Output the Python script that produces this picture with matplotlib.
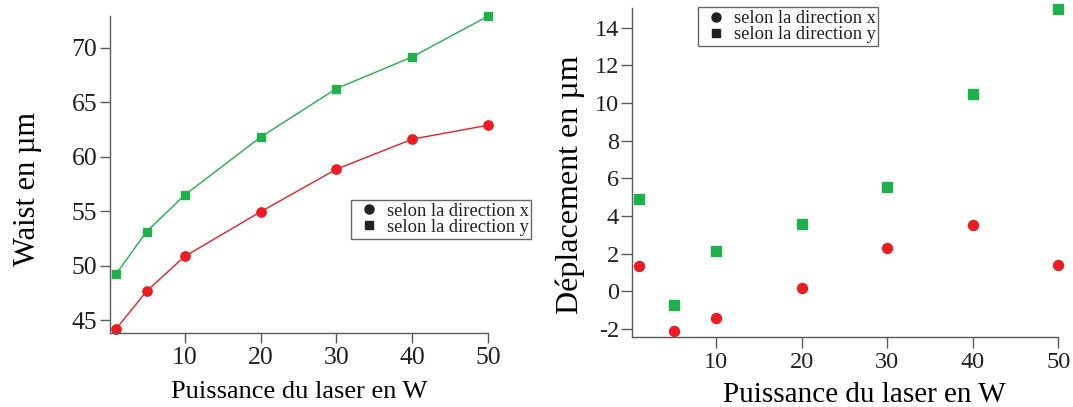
import matplotlib
matplotlib.use("Agg")
import matplotlib.pyplot as plt

# puissance laser (W)
puissance = [1, 5, 10, 20, 30, 40, 50]

# waist (um)
waist_x = [44.2, 47.65, 50.83, 54.93, 58.84, 61.6, 62.88]
waist_y = [49.24, 53.12, 56.46, 61.78, 66.24, 69.15, 72.9]

# deplacement (um)
depl_x = [1.36, -2.13, -1.44, 0.15, 2.28, 3.52, 1.41]
depl_y = [4.89, -0.73, 2.14, 3.58, 5.53, 10.49, 15.0]

lab_x = "selon la direction x"
lab_y = "selon la direction y"

RED = "#ed1c24"
GREEN = "#1eb04b"
TXT = "#231f20"
SPINE = "#5a5a5a"

plt.rcParams["font.family"] = ["Liberation Serif", "DejaVu Serif"]
plt.rcParams["axes.unicode_minus"] = False
plt.rcParams["text.color"] = TXT

W, H = 1073, 407
fig = plt.figure(figsize=(W / 100, H / 100), dpi=100)


def px_axes(x0, x1, ytop, ybot):
    return fig.add_axes([x0 / W, 1 - ybot / H, (x1 - x0) / W, (ybot - ytop) / H])


def style(ax, tick_fs, tlen, ypad, xpad):
    for s in ["top", "right"]:
        ax.spines[s].set_visible(False)
    for s in ["left", "bottom"]:
        ax.spines[s].set_color(SPINE)
        ax.spines[s].set_linewidth(1.0)
    ax.tick_params(axis="both", direction="out", length=tlen, width=1.0,
                   color=SPINE, labelcolor=TXT, labelsize=tick_fs)
    ax.tick_params(axis="y", pad=ypad)
    ax.tick_params(axis="x", pad=xpad)


def legend(ax, anchor, fs):
    h1, = ax.plot([], [], "o", color="#222222", ms=6.5, ls="none")
    h2, = ax.plot([], [], "s", color="#222222", ms=6, ls="none")
    leg = ax.legend([h1, h2], [lab_x, lab_y], loc="upper left",
                    bbox_to_anchor=(anchor[0] / W, 1 - anchor[1] / H),
                    bbox_transform=fig.transFigure, fontsize=fs,
                    frameon=True, fancybox=False, handlelength=1.64,
                    handletextpad=0.15, borderpad=0.15, labelspacing=-0.05,
                    borderaxespad=0, framealpha=1)
    leg.get_frame().set_edgecolor("#666666")
    leg.get_frame().set_linewidth(1.0)
    return leg


# ---- left: waist
ax1 = px_axes(109.8, 488.3, 16, 333.3)
ax1.plot(puissance, waist_y, "-s", color=GREEN, lw=1, ms=5.8, clip_on=False)
ax1.plot(puissance, waist_x, "-o", color=RED, lw=1, ms=6.7, clip_on=False)
ax1.set_xlim(0.15, 50)
ax1.set_ylim(43.78, 72.9)
ax1.set_xticks([10, 20, 30, 40, 50])
ax1.set_yticks([45, 50, 55, 60, 65, 70])
style(ax1, 18.5, 7, 2, 3)
ax1.set_xlabel("Puissance du laser en W", fontsize=19)
ax1.set_ylabel("Waist en µm", fontsize=22)
ax1.xaxis.label.set_va("baseline")
ax1.yaxis.label.set_va("baseline")
ax1.xaxis.set_label_coords(0.5005, -0.205)
ax1.yaxis.set_label_coords(-0.1976, 0.456)
legend(ax1, (351, 200), 13.3)

# ---- right: deplacement
ax2 = px_axes(632.2, 1058.3, 8, 337.3)
ax2.plot(puissance, depl_y, "s", color=GREEN, ms=6.5, clip_on=False)
ax2.plot(puissance, depl_x, "o", color=RED, ms=7.2, clip_on=False)
ax2.set_xlim(0.17, 50)
ax2.set_ylim(-2.45, 15.05)
ax2.set_xticks([10, 20, 30, 40, 50])
ax2.set_yticks(list(range(-2, 15, 2)))
style(ax2, 17.5, 8, 1.5, 2.5)
ax2.set_xlabel("Puissance du laser en W", fontsize=21)
ax2.set_ylabel("Déplacement en µm", fontsize=23)
ax2.xaxis.label.set_va("baseline")
ax2.yaxis.label.set_va("baseline")
ax2.xaxis.set_label_coords(0.5456, -0.1956)
ax2.yaxis.set_label_coords(-0.1276, 0.4625)
legend(ax2, (698, 7.3), 13.3)

fig.savefig("out.png", dpi=100)
